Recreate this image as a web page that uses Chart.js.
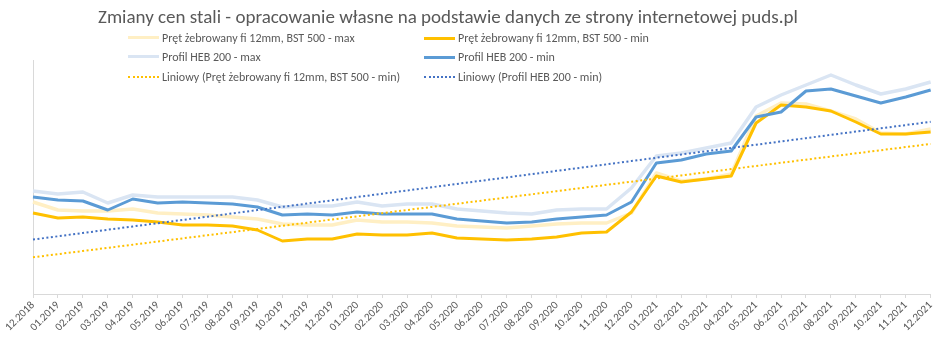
<!DOCTYPE html>
<html>
<head>
<meta charset="utf-8">
<script src="https://cdn.jsdelivr.net/npm/chart.js@4/dist/chart.umd.min.js"></script>
<style>
  body { margin: 0; background: #fff; }
  #wrap { position: relative; width: 941px; height: 346px; font-family: Carlito, "Liberation Sans Narrow", "Noto Sans", sans-serif; color: #595959; }
  #title { position: absolute; left: 98px; top: 5px; font-size: 19px; white-space: nowrap; }
  .leg { position: absolute; font-size: 12px; white-space: nowrap; line-height: 14px; }
  .leg i { position: absolute; left: -34px; top: 6px; width: 31px; height: 0; }
</style>
</head>
<body>
<div id="wrap">
  <canvas id="wykres" width="941" height="346"></canvas>
  <div id="title">Zmiany cen stali - opracowanie własne na podstawie danych ze strony internetowej puds.pl</div>
  <div id="legenda"></div>
</div>
<script>
// miesiące 12.2018 - 12.2021
const miesiace = [
  "12.2018", "01.2019", "02.2019", "03.2019", "04.2019", "05.2019", "06.2019", "07.2019", "08.2019", "09.2019",
  "10.2019", "11.2019", "12.2019", "01.2020", "02.2020", "03.2020", "04.2020", "05.2020", "06.2020", "07.2020",
  "08.2020", "09.2020", "10.2020", "11.2020", "12.2020", "01.2021", "02.2021", "03.2021", "04.2021", "05.2021",
  "06.2021", "07.2021", "08.2021", "09.2021", "10.2021", "11.2021", "12.2021"
];

// ceny (zł/t)
const pretMax = [
  2440, 2280, 2260, 2260, 2300, 2220, 2200, 2180, 2140, 2100,
  2000, 1980, 1980, 2080, 2040, 2040, 2020, 1960, 1940, 1920,
  1960, 2000, 2020, 2020, 2220, 3020, 2860, 2900, 3000, 4160,
  4420, 4400, 4260, 4100, 3820, 3800, 3900
];
const pretMin = [
  2220, 2120, 2140, 2100, 2080, 2040, 1980, 1980, 1960, 1880,
  1660, 1700, 1700, 1800, 1780, 1780, 1820, 1720, 1700, 1680,
  1700, 1740, 1820, 1840, 2240, 2960, 2840, 2900, 2960, 4020,
  4380, 4340, 4260, 4040, 3800, 3800, 3840
];
const hebMax = [
  2660, 2600, 2640, 2420, 2580, 2540, 2540, 2540, 2540, 2480,
  2340, 2360, 2360, 2440, 2360, 2400, 2400, 2300, 2260, 2220,
  2200, 2280, 2300, 2300, 2720, 3360, 3420, 3520, 3620, 4340,
  4580, 4780, 4980, 4780, 4600, 4700, 4840
];
const hebMin = [
  2540, 2480, 2460, 2280, 2500, 2420, 2440, 2420, 2400, 2340,
  2180, 2200, 2180, 2240, 2200, 2200, 2200, 2100, 2060, 2020,
  2040, 2100, 2140, 2180, 2440, 3220, 3280, 3400, 3460, 4140,
  4240, 4660, 4700, 4560, 4420, 4540, 4680
];

// linia trendu (regresja liniowa jak w Excelu)
function trendLiniowy(wartosci) {
  const n = wartosci.length;
  const sx = (n - 1) / 2;
  const sy = wartosci.reduce((a, b) => a + b, 0) / n;
  let licz = 0, mian = 0;
  wartosci.forEach((v, i) => { licz += (i - sx) * (v - sy); mian += (i - sx) * (i - sx); });
  const a = licz / mian;
  return wartosci.map((_, i) => sy + a * (i - sx));
}

const serie = [
  { label: "Pręt żebrowany fi 12mm, BST 500 - max", data: pretMax, borderColor: "#FFEFC4", borderWidth: 3.5 },
  { label: "Pręt żebrowany fi 12mm, BST 500 - min", data: pretMin, borderColor: "#FFC000", borderWidth: 3 },
  { label: "Profil HEB 200 - max", data: hebMax, borderColor: "#DAE5F3", borderWidth: 3.5 },
  { label: "Profil HEB 200 - min", data: hebMin, borderColor: "#5B9BD5", borderWidth: 3 },
  { label: "Liniowy (Pręt żebrowany fi 12mm, BST 500 - min)", data: trendLiniowy(pretMin), borderColor: "#FFC000", borderWidth: 2, borderDash: [2, 2.5] },
  { label: "Liniowy (Profil HEB 200 - min)", data: trendLiniowy(hebMin), borderColor: "#4472C4", borderWidth: 2, borderDash: [2, 2.5] }
];

const wykres = new Chart(document.getElementById("wykres"), {
  type: "line",
  data: {
    labels: miesiace,
    datasets: serie.map((s, i) => ({
      ...s,
      order: serie.length - i,
      fill: false,
      tension: 0,
      pointRadius: 0,
      borderJoinStyle: "round",
      borderCapStyle: "butt"
    }))
  },
  options: {
    responsive: false,
    animation: false,
    devicePixelRatio: 1,
    layout: { padding: { top: 60, right: 8, bottom: 0, left: 0 } },
    plugins: { legend: { display: false }, title: { display: false }, tooltip: { enabled: false } },
    scales: {
      x: {
        offset: false,
        grid: { display: true, drawOnChartArea: false, drawTicks: true, tickLength: 4, color: "#D9D9D9" },
        border: { display: true, color: "#D9D9D9" },
        ticks: {
          autoSkip: false, minRotation: 45, maxRotation: 45, padding: 1,
          color: "#595959", font: { family: "Carlito, 'Liberation Sans Narrow', 'Noto Sans', sans-serif", size: 11 }
        },
        afterFit: (s) => { s.height = 52; }
      },
      y: {
        min: 600,
        max: 5280,
        grid: { display: false },
        border: { display: true, color: "#D9D9D9" },
        ticks: { display: false },
        afterFit: (s) => { s.width = 33; }
      }
    }
  }
});

// legenda w dwóch kolumnach
const pozycje = [[162, 31], [458, 31], [162, 50], [458, 50], [162, 70], [458, 70]];
const leg = document.getElementById("legenda");
serie.forEach((s, i) => {
  const d = document.createElement("div");
  d.className = "leg";
  d.style.left = pozycje[i][0] + "px";
  d.style.top = pozycje[i][1] + "px";
  const probka = document.createElement("i");
  probka.style.borderTop = s.borderDash ? "2px dotted " + s.borderColor : (s.borderWidth + "px solid " + s.borderColor);
  if (!s.borderDash) probka.style.top = (7 - s.borderWidth / 2) + "px";
  d.appendChild(probka);
  d.appendChild(document.createTextNode(s.label));
  leg.appendChild(d);
});
</script>
</body>
</html>
